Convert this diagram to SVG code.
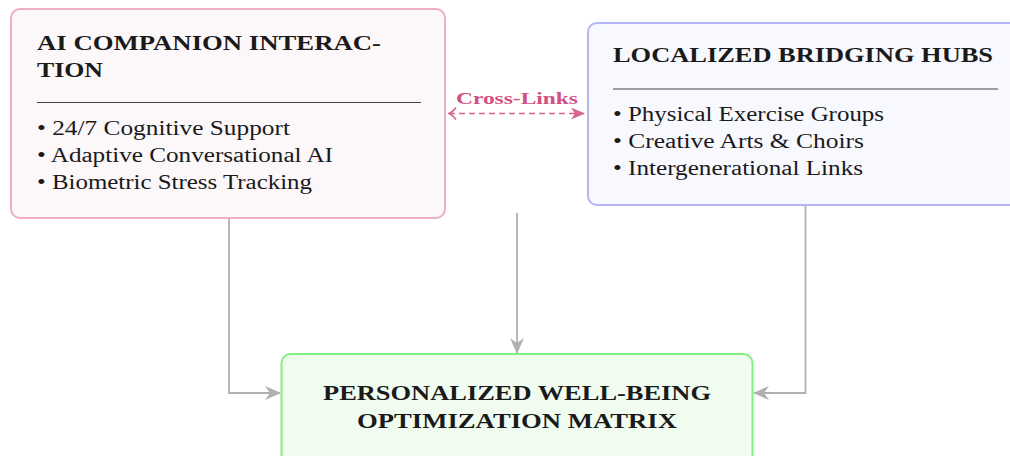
<svg xmlns="http://www.w3.org/2000/svg" width="1010" height="456" viewBox="0 0 1010 456">
  <style>
    .title { font-family: "Liberation Serif", "DejaVu Serif", serif; font-weight: bold; font-size: 20px; fill: #1a1a1a; }
    .item { font-family: "Liberation Serif", "DejaVu Serif", serif; font-size: 20.5px; fill: #1a1a1a; }
    .rule { stroke: #444; stroke-width: 1.2; }
    .flow { fill: none; stroke: #b0b0b0; stroke-width: 1.8; }
    .cross { fill: none; stroke: #d9638f; stroke-width: 1.6; stroke-dasharray: 6 4; }
    .xlabel { font-family: "Liberation Serif", "DejaVu Serif", serif; font-weight: bold; font-size: 17px; fill: #d0507f; }
  </style>
  <defs>
    <marker id="stealth" viewBox="0 0 16 14" refX="15" refY="7" markerWidth="16" markerHeight="14" markerUnits="userSpaceOnUse" orient="auto">
      <path d="M0,0 L16,7 L0,14 L5,7 Z" fill="#b0b0b0"/>
    </marker>
    <marker id="pinkHead" viewBox="0 0 14 12" refX="13" refY="6" markerWidth="14" markerHeight="12" markerUnits="userSpaceOnUse" orient="auto">
      <path d="M0,0 L14,6 L0,12 L4,6 Z" fill="#d9638f"/>
    </marker>
    <marker id="pinkOpen" viewBox="0 0 10 14" refX="1" refY="7" markerWidth="10" markerHeight="14" markerUnits="userSpaceOnUse" orient="auto">
      <path d="M8,1 Q4,6 1,7 Q4,8 8,13" fill="none" stroke="#d9638f" stroke-width="1.6"/>
    </marker>
  </defs>

  <!-- connectors -->
  <g id="connectors">
    <path class="flow" d="M229,218 V393 H280" marker-end="url(#stealth)"/>
    <path class="flow" d="M517,213 V353" marker-end="url(#stealth)"/>
    <path class="flow" d="M805.5,205 V393 H754" marker-end="url(#stealth)"/>
    <path class="cross" d="M449,113.5 H584" marker-start="url(#pinkOpen)" marker-end="url(#pinkHead)"/>
    <text class="xlabel" x="456" y="104" textLength="122" lengthAdjust="spacingAndGlyphs">Cross-Links</text>
  </g>

  <g id="ai-companion">
    <rect x="11" y="9" width="434" height="209" rx="9" fill="#fcf7f9" stroke="#eeaec6" stroke-width="2"/>
    <text class="title" x="37" y="50" textLength="344" lengthAdjust="spacingAndGlyphs">AI COMPANION INTERAC-</text>
    <text class="title" x="37" y="77" textLength="66" lengthAdjust="spacingAndGlyphs">TION</text>
    <line class="rule" x1="37" y1="102.5" x2="421" y2="102.5"/>
    <text class="item" x="37" y="135" textLength="253" lengthAdjust="spacingAndGlyphs">• 24/7 Cognitive Support</text>
    <text class="item" x="37" y="162" textLength="296" lengthAdjust="spacingAndGlyphs">• Adaptive Conversational AI</text>
    <text class="item" x="37" y="189" textLength="275" lengthAdjust="spacingAndGlyphs">• Biometric Stress Tracking</text>
  </g>

  <g id="bridging-hubs">
    <rect x="588" y="23" width="440" height="182" rx="9" fill="#f8f8ff" stroke="#b4b4f8" stroke-width="2"/>
    <text class="title" x="613" y="62" textLength="380" lengthAdjust="spacingAndGlyphs">LOCALIZED BRIDGING HUBS</text>
    <line class="rule" x1="613" y1="89" x2="998" y2="89"/>
    <text class="item" x="613" y="121" textLength="271" lengthAdjust="spacingAndGlyphs">• Physical Exercise Groups</text>
    <text class="item" x="613" y="148" textLength="251" lengthAdjust="spacingAndGlyphs">• Creative Arts &amp; Choirs</text>
    <text class="item" x="613" y="175" textLength="250" lengthAdjust="spacingAndGlyphs">• Intergenerational Links</text>
  </g>

  <g id="wellbeing-matrix">
    <rect x="281.5" y="354" width="471" height="120" rx="9" fill="#f0fcf0" stroke="#80f080" stroke-width="2"/>
    <text class="title" x="323" y="400" textLength="388" lengthAdjust="spacingAndGlyphs">PERSONALIZED WELL-BEING</text>
    <text class="title" x="357" y="428" textLength="320" lengthAdjust="spacingAndGlyphs">OPTIMIZATION MATRIX</text>
  </g>
</svg>
